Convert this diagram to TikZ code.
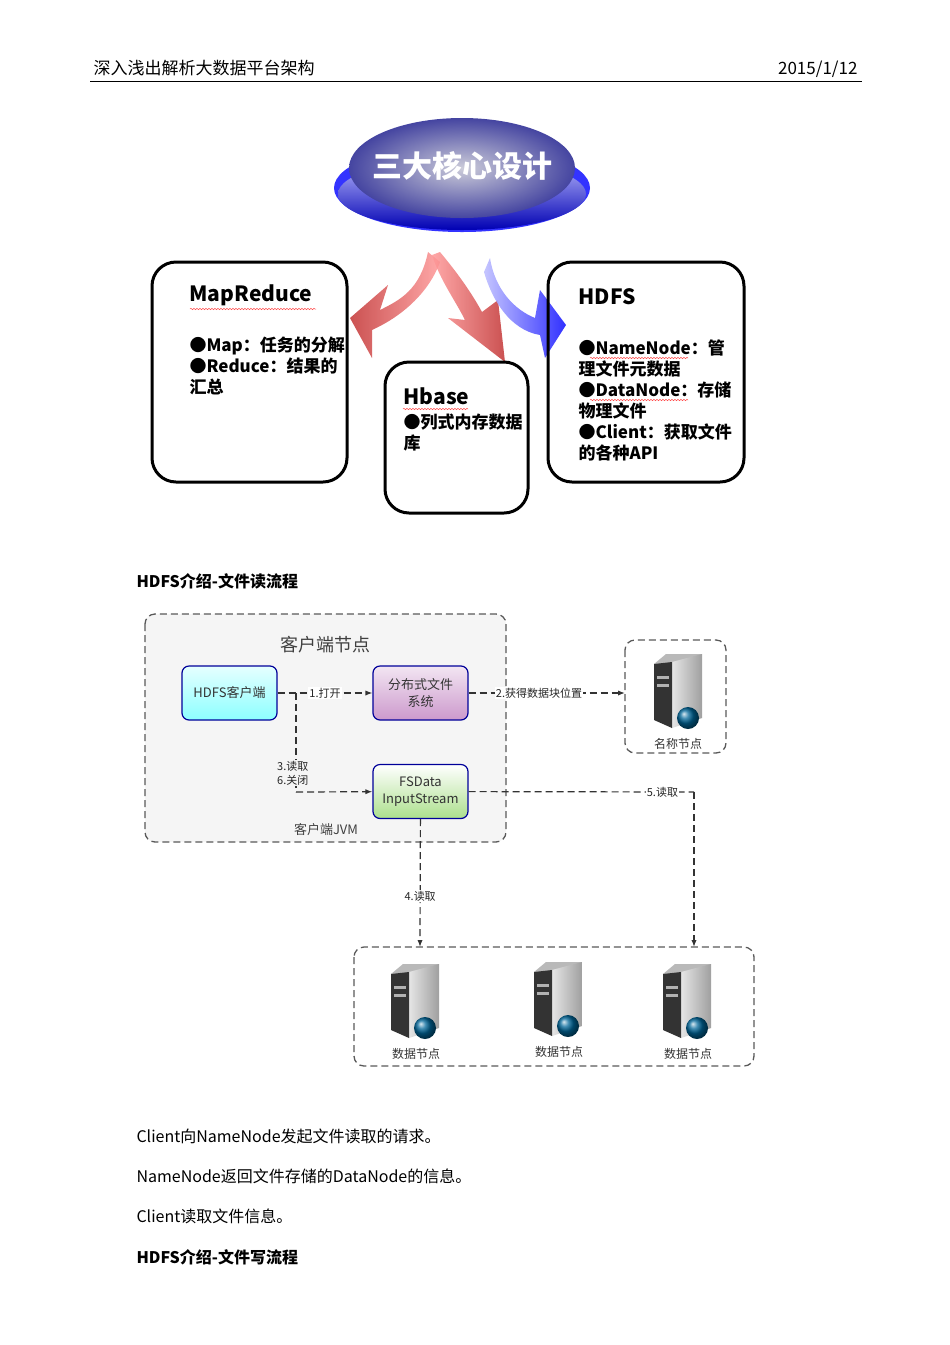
\documentclass[tikz,border=0pt]{standalone}
\usepackage{fontspec}
\setmainfont{Noto Sans CJK SC}
\usetikzlibrary{shapes.geometric,decorations.pathmorphing,arrows.meta,shadings}
\begin{document}
\begin{tikzpicture}[x=1pt,y=-1pt,
  bigbox/.style={draw,line width=3pt,rounded corners=24pt},
  btxt/.style={anchor=north west,align=left,font=\fontsize{17}{21}\selectfont\bfseries},
  flow/.style={draw=blue!60!black,line width=1.2pt,rounded corners=7pt,minimum width=95pt,minimum height=54pt,align=center,font=\fontsize{13}{17}\selectfont,text=black!80},
  dbox/.style={draw=black!65,dash pattern=on 7pt off 4pt,line width=1.3pt,rounded corners=10pt},
  dl/.style={draw=black!80,dash pattern=on 7pt off 4pt,line width=1.2pt},
  ar/.style={dl,-{Latex[length=7pt]}},
  sm/.style={font=\fontsize{11}{14}\selectfont,text=black!85,fill=white,inner sep=1pt},
  wavy/.style={draw=red!70,decorate,decoration={snake,amplitude=0.7pt,segment length=3pt},line width=0.5pt}]
\useasboundingbox (0,0) rectangle (950,1345);
% header
\node[anchor=base west,font=\fontsize{17}{20}\selectfont] (hl) at (90,74) {深入浅出解析大数据平台架构};
\node[anchor=base east,font=\fontsize{17}{20}\selectfont] (hr) at (861,74) {2015/1/12};
\draw[line width=1pt] (90,81) -- (862,81);
% core ellipse
\fill[blue!80!white] (462,188) ellipse [x radius=128,y radius=44];
\shade[top color=blue!25!white,bottom color=blue!70!black] (462,194) ellipse [x radius=124,y radius=36];
\shade[inner color=blue!15!gray!35!white,outer color=blue!40!gray!90!black] (462,168) ellipse [x radius=113,y radius=50];
\node[text=white,font=\fontsize{30}{34}\selectfont\bfseries] (core) at (462,166) {三大核心设计};
% arrows
\shade[left color=red!70!black!80,right color=red!40!white,opacity=0.85]
  (428,252) .. controls (420,290) and (400,300) .. (380,310) -- (388,285) -- (350,318) -- (372,358) -- (372,330) .. controls (405,315) and (430,290) .. (440,262) -- cycle;
\shade[left color=red!40!white,right color=red!70!black!80,opacity=0.85]
  (432,255) .. controls (440,280) and (455,300) .. (465,320) -- (448,318) -- (505,362) -- (498,300) -- (482,312) .. controls (470,290) and (455,270) .. (440,252) -- cycle;
\shade[left color=blue!25!white,right color=blue!90!white,opacity=0.9]
  (490,258) .. controls (495,290) and (515,310) .. (535,318) -- (540,290) -- (566,325) -- (545,358) -- (540,335) .. controls (510,330) and (492,300) .. (484,272) -- cycle;
% boxes
\draw[bigbox] (152,262) rectangle (347,482);
\draw[bigbox] (385,362) rectangle (528,513);
\draw[bigbox] (548,262) rectangle (744,482);
\node[btxt,font=\fontsize{21}{24}\selectfont\bfseries] (mr) at (186,281) {MapReduce};
\node[btxt] (mrt) at (186,333) {●Map：任务的分解\\●Reduce：结果的\\汇总};
\node[btxt,font=\fontsize{21}{24}\selectfont\bfseries] (hb) at (400,384) {Hbase};
\node[btxt] (hbt) at (400,410) {●列式内存数据\\库};
\node[btxt,font=\fontsize{21}{24}\selectfont\bfseries] (hd) at (575,285) {HDFS};
\node[btxt,text width=165pt] (hdt) at (575,336) {●NameNode：管\\理文件元数据\\●DataNode：存储\\物理文件\\●Client：获取文件\\的各种API};
\draw[wavy] (190,309) -- (316,309);
\draw[wavy] (403,409) -- (468,409);
\draw[wavy] (590,358) -- (688,358);
\draw[wavy] (590,400) -- (688,400);
% section title
\node[anchor=base west,font=\fontsize{16}{19}\selectfont\bfseries] (t1) at (133,587) {HDFS介绍-文件读流程};
% read flow
\draw[dbox,fill=gray!8] (145,614) rectangle (506,842);
\node[font=\fontsize{18}{20}\selectfont,text=black!75] (cn) at (325,645) {客户端节点};
\node[font=\fontsize{13}{16}\selectfont,text=black!75] (jvm) at (326,830) {客户端JVM};
\node[flow,top color=cyan!10,bottom color=cyan!45] (cl) at (229.5,693) {HDFS客户端};
\node[flow,top color=violet!10,bottom color=violet!40] (fs) at (420.5,693) {分布式文件\\系统};
\node[flow,top color=white,bottom color=green!45!olive!45] (in) at (420.5,791.5) {FSData\\InputStream};
\draw[dbox] (625,640) rectangle (726,753);
\draw[dbox] (354,947) rectangle (754,1066);
% servers
\tikzset{srv/.pic={
  \fill[gray!55] (-24,-26) -- (-12,-36) -- (24,-36) -- (12,-26) -- cycle;
  \shade[left color=gray!20,right color=gray!75] (-6,-28) -- (24,-36) -- (24,28) -- (-6,38) -- cycle;
  \fill[black!80] (-24,-26) -- (-6,-28) -- (-6,38) -- (-24,30) -- cycle;
  \fill[gray!60] (-21,-14) rectangle (-9,-11);
  \fill[gray!60] (-21,-6) rectangle (-9,-3);
  \shade[ball color=blue!60!green] (10,28) circle (11);
}}
\pic at (678,690) {srv};
\pic at (415,1000) {srv};
\pic at (558,998) {srv};
\pic at (687,1000) {srv};
\node[font=\fontsize{12}{14}\selectfont,text=black!80] (nn) at (678,744) {名称节点};
\node[font=\fontsize{12}{14}\selectfont,text=black!80] (d1) at (416,1054) {数据节点};
\node[font=\fontsize{12}{14}\selectfont,text=black!80] (d2) at (559,1052) {数据节点};
\node[font=\fontsize{12}{14}\selectfont,text=black!80] (d3) at (688,1054) {数据节点};
\coordinate (nnw) at (625,693);
\coordinate (sp) at (296,693);
\coordinate (sq) at (296,792);
\coordinate (c5) at (694,792);
\coordinate (c5b) at (694,947);
\coordinate (c4b) at (420,947);
% connectors
\draw[ar] (cl) -- node[sm]{1.打开} (fs);
\draw[ar] (fs) -- node[sm,pos=0.45]{2.获得数据块位置} (nnw);
\draw[dl] (sp) -- (sq);
\draw[ar] (sq) -- (in);
\node[sm,fill=gray!8,anchor=west,align=left] (l36) at (276,773) {3.读取\\6.关闭};
\draw[dl] (in) -- node[sm,pos=0.86]{5.读取} (c5);
\draw[ar] (c5) -- (c5b);
\draw[ar] (in) -- node[sm,pos=0.6]{4.读取} (c4b);
% body text
\node[anchor=base west,font=\fontsize{16}{19}\selectfont] (p1) at (133,1142) {Client向NameNode发起文件读取的请求。};
\node[anchor=base west,font=\fontsize{16}{19}\selectfont] (p2) at (133,1182) {NameNode返回文件存储的DataNode的信息。};
\node[anchor=base west,font=\fontsize{16}{19}\selectfont] (p3) at (133,1222) {Client读取文件信息。};
\node[anchor=base west,font=\fontsize{16}{19}\selectfont\bfseries] (t2) at (133,1263) {HDFS介绍-文件写流程};
\end{tikzpicture}
\end{document}
